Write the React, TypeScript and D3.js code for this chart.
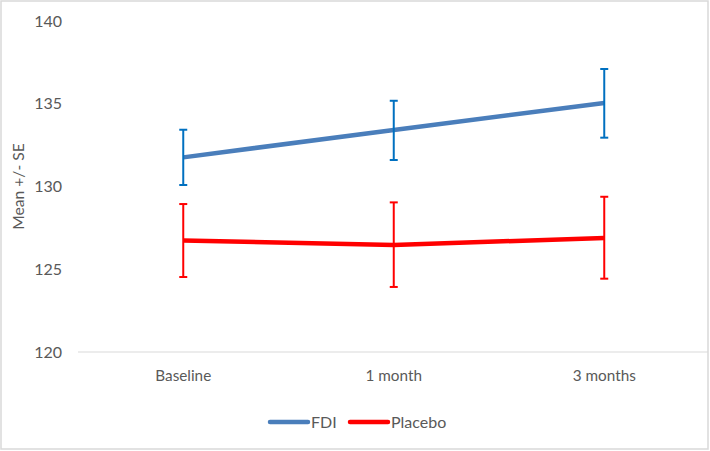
import React from "react";
import * as d3 from "d3";

const categories = ["Baseline", "1 month", "3 months"];
const fdiMean = [131.76, 133.42, 135.05];
const fdiLow = [130.09, 131.6, 132.95];
const fdiHigh = [133.43, 135.18, 137.1];
const placeboMean = [126.73, 126.47, 126.89];
const placeboLow = [124.53, 123.93, 124.43];
const placeboHigh = [128.94, 129.04, 129.38];
const yTicks = [120, 125, 130, 135, 140];

const W = 710;
const H = 451;
const margin = { left: 78, right: 0.5, top: 21, bottom: 99 };

export default function App() {
  const x = d3
    .scalePoint<string>()
    .domain(categories)
    .range([margin.left, W - margin.right])
    .padding(0.5);
  const y = d3.scaleLinear().domain([120, 140]).range([H - margin.bottom, margin.top]);
  const line = d3
    .line<number>()
    .x((_, i) => x(categories[i]) as number)
    .y((d) => y(d));

  const font = "Lato, 'Open Sans', sans-serif";
  const series = [
    { name: "FDI", mean: fdiMean, low: fdiLow, high: fdiHigh, line: "#4A7EBB", err: "#0070C0" },
    { name: "Placebo", mean: placeboMean, low: placeboLow, high: placeboHigh, line: "#FF0000", err: "#FF0000" },
  ];

  return (
    <svg width={W} height={H} style={{ position: "absolute", left: 0, top: 0 }}>
      <rect x={1} y={1} width={W - 3} height={H - 3} fill="#fff" stroke="#d9d9d9" strokeWidth={1.5} />
      <line x1={margin.left} x2={W - 2} y1={y(120)} y2={y(120)} stroke="#d9d9d9" strokeWidth={1} />
      {yTicks.map((t) => (
        <text key={t} x={62} y={y(t)} dy="0.35em" textAnchor="end" fontSize={16} fill="#595959" fontFamily={font}>
          {t}
        </text>
      ))}
      {categories.map((c) => (
        <text key={c} x={x(c)} y={y(120) + 29} textAnchor="middle" fontSize={15.3} fill="#595959" fontFamily={font}>
          {c}
        </text>
      ))}
      <text
        transform={`translate(24, ${(y(120) + y(140)) / 2}) rotate(-90)`}
        textAnchor="middle"
        fontSize={15.6}
        fill="#595959"
        fontFamily={font}
      >
        Mean +/- SE
      </text>
      {series.map((s) => (
        <g key={s.name}>
          <path d={line(s.mean) || ""} fill="none" stroke={s.line} strokeWidth={4.5} strokeLinejoin="round" />
          {categories.map((c, i) => {
            const cx = x(c) as number;
            return (
              <g key={c} stroke={s.err} strokeWidth={2}>
                <line x1={cx} x2={cx} y1={y(s.low[i])} y2={y(s.high[i])} />
                <line x1={cx - 4} x2={cx + 4} y1={y(s.low[i])} y2={y(s.low[i])} />
                <line x1={cx - 4} x2={cx + 4} y1={y(s.high[i])} y2={y(s.high[i])} />
              </g>
            );
          })}
        </g>
      ))}
      <g fontFamily={font} fontSize={16} fill="#595959">
        <line x1={270} x2={308} y1={422} y2={422} stroke="#4A7EBB" strokeWidth={4.5} strokeLinecap="round" />
        <text x={311} y={422} dy="0.35em">FDI</text>
        <line x1={350} x2={388} y1={422} y2={422} stroke="#FF0000" strokeWidth={4.5} strokeLinecap="round" />
        <text x={391} y={422} dy="0.35em">Placebo</text>
      </g>
    </svg>
  );
}
